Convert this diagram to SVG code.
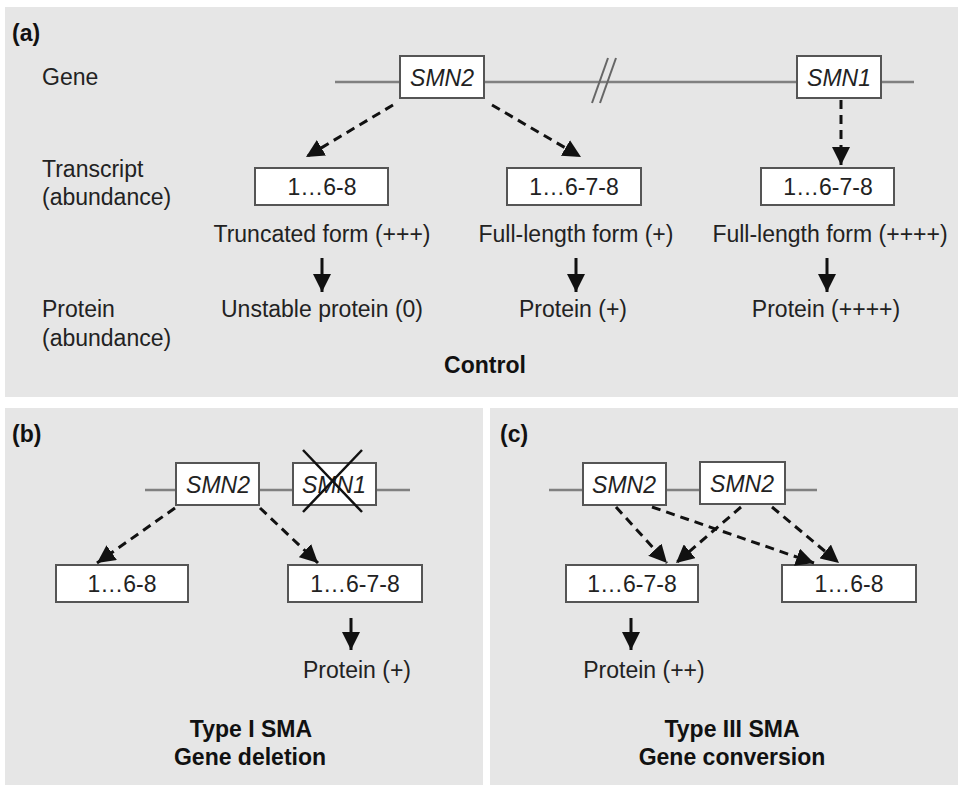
<svg xmlns="http://www.w3.org/2000/svg" width="958" height="785" viewBox="0 0 958 785">
<defs>
<marker id="ah" markerUnits="userSpaceOnUse" markerWidth="19" markerHeight="18" refX="18" refY="9" orient="auto">
<path d="M0,0 L18,9 L0,18 z" fill="#111"/>
</marker>
<style>
.panel{fill:#e6e6e6}
.t{font-family:"Liberation Sans",Arial,sans-serif;font-size:23px;fill:#222}
.b{font-family:"Liberation Sans",Arial,sans-serif;font-size:23px;font-weight:bold;fill:#111}
.i{font-family:"Liberation Sans",Arial,sans-serif;font-size:23px;font-style:italic;fill:#222}
.box{fill:#fff;stroke:#555;stroke-width:2}
.gl{stroke:#808080;stroke-width:2.5;fill:none}
.d{stroke:#111;stroke-width:3;stroke-dasharray:9,6;fill:none;marker-end:url(#ah)}
.s{stroke:#111;stroke-width:3;fill:none;marker-end:url(#ah)}
.x{stroke:#111;stroke-width:2.5}
</style>
</defs>
<rect width="958" height="785" fill="#fff"/>
<rect class="panel" x="5" y="7" width="953" height="390"/>
<rect class="panel" x="5" y="408" width="478" height="377"/>
<rect class="panel" x="490" y="408" width="468" height="377"/>

<g id="panel-a">
<text class="b" x="12" y="41">(a)</text>
<text class="t" x="42" y="85">Gene</text>
<text class="t" x="42" y="177">Transcript</text>
<text class="t" x="42" y="205">(abundance)</text>
<text class="t" x="42" y="317">Protein</text>
<text class="t" x="42" y="346">(abundance)</text>
<line class="gl" x1="335" y1="82" x2="914" y2="82"/>
<line x1="592" y1="103" x2="608" y2="58" stroke="#666" stroke-width="2"/>
<line x1="600" y1="103" x2="616" y2="58" stroke="#666" stroke-width="2"/>
<text class="b" x="485" y="373" text-anchor="middle">Control</text>
</g>
<g id="a-smn2"><rect class="box" x="400" y="56" width="84" height="42"/><text class="i" x="442" y="86" text-anchor="middle">SMN2</text></g>
<g id="a-smn1"><rect class="box" x="797" y="56" width="84" height="42"/><text class="i" x="839" y="86" text-anchor="middle">SMN1</text></g>
<g id="a-t1"><rect class="box" x="255" y="168" width="133" height="37"/><text class="t" x="322" y="195" text-anchor="middle">1…6-8</text></g>
<g id="a-t2"><rect class="box" x="507" y="168" width="134" height="37"/><text class="t" x="574" y="195" text-anchor="middle">1…6-7-8</text></g>
<g id="a-t3"><rect class="box" x="761" y="168" width="133" height="37"/><text class="t" x="828" y="195" text-anchor="middle">1…6-7-8</text></g>
<g id="a-f1"><text class="t" x="322" y="242" text-anchor="middle">Truncated form (+++)</text></g>
<g id="a-f2"><text class="t" x="576" y="242" text-anchor="middle">Full-length form (+)</text></g>
<g id="a-f3"><text class="t" x="830" y="242" text-anchor="middle">Full-length form (++++)</text></g>
<g id="a-p1"><text class="t" x="322" y="317" text-anchor="middle">Unstable protein (0)</text></g>
<g id="a-p2"><text class="t" x="573" y="317" text-anchor="middle">Protein (+)</text></g>
<g id="a-p3"><text class="t" x="826" y="317" text-anchor="middle">Protein (++++)</text></g>

<g id="panel-b">
<text class="b" x="12" y="442">(b)</text>
<line class="gl" x1="145" y1="490" x2="410" y2="490"/>
<text class="b" x="251" y="737" text-anchor="middle">Type I SMA</text>
<text class="b" x="250" y="765" text-anchor="middle">Gene deletion</text>
</g>
<g id="b-smn2"><rect class="box" x="176" y="463" width="83" height="42"/><text class="i" x="218" y="493" text-anchor="middle">SMN2</text></g>
<g id="b-smn1"><rect class="box" x="293" y="463" width="83" height="42"/><text class="i" x="334" y="493" text-anchor="middle">SMN1</text>
<line class="x" x1="303" y1="450" x2="362" y2="512"/><line class="x" x1="362" y1="450" x2="303" y2="512"/></g>
<g id="b-t1"><rect class="box" x="56" y="565" width="132" height="37"/><text class="t" x="122" y="592" text-anchor="middle">1…6-8</text></g>
<g id="b-t2"><rect class="box" x="288" y="565" width="134" height="37"/><text class="t" x="355" y="592" text-anchor="middle">1…6-7-8</text></g>
<g id="b-p"><text class="t" x="357" y="678" text-anchor="middle">Protein (+)</text></g>

<g id="panel-c">
<text class="b" x="500" y="442">(c)</text>
<line class="gl" x1="549" y1="490" x2="817" y2="490"/>
<text class="b" x="732" y="737" text-anchor="middle">Type III SMA</text>
<text class="b" x="732" y="765" text-anchor="middle">Gene conversion</text>
</g>
<g id="c-smn2a"><rect class="box" x="583" y="463" width="83" height="42"/><text class="i" x="624" y="493" text-anchor="middle">SMN2</text></g>
<g id="c-smn2b"><rect class="box" x="700" y="462" width="85" height="42"/><text class="i" x="742" y="492" text-anchor="middle">SMN2</text></g>
<g id="c-t1"><rect class="box" x="566" y="565" width="132" height="37"/><text class="t" x="632" y="592" text-anchor="middle">1…6-7-8</text></g>
<g id="c-t2"><rect class="box" x="782" y="565" width="134" height="37"/><text class="t" x="849" y="592" text-anchor="middle">1…6-8</text></g>
<g id="c-p"><text class="t" x="644" y="678" text-anchor="middle">Protein (++)</text></g>

<g id="connectors">
<line class="d" x1="393" y1="105" x2="306" y2="157"/>
<line class="d" x1="492" y1="105" x2="581" y2="157"/>
<line class="d" x1="841" y1="100" x2="841" y2="165"/>
<line class="s" x1="322" y1="258" x2="322" y2="292"/>
<line class="s" x1="576" y1="258" x2="576" y2="292"/>
<line class="s" x1="827" y1="258" x2="827" y2="292"/>
<line class="d" x1="175" y1="508" x2="97" y2="563"/>
<line class="d" x1="260" y1="508" x2="318" y2="563"/>
<line class="s" x1="351" y1="618" x2="351" y2="650"/>
<line class="d" x1="616" y1="507" x2="667" y2="563"/>
<line class="d" x1="652" y1="507" x2="814" y2="563"/>
<line class="d" x1="741" y1="507" x2="676" y2="563"/>
<line class="d" x1="772" y1="507" x2="839" y2="563"/>
<line class="s" x1="631" y1="618" x2="631" y2="650"/>
</g>
</svg>
